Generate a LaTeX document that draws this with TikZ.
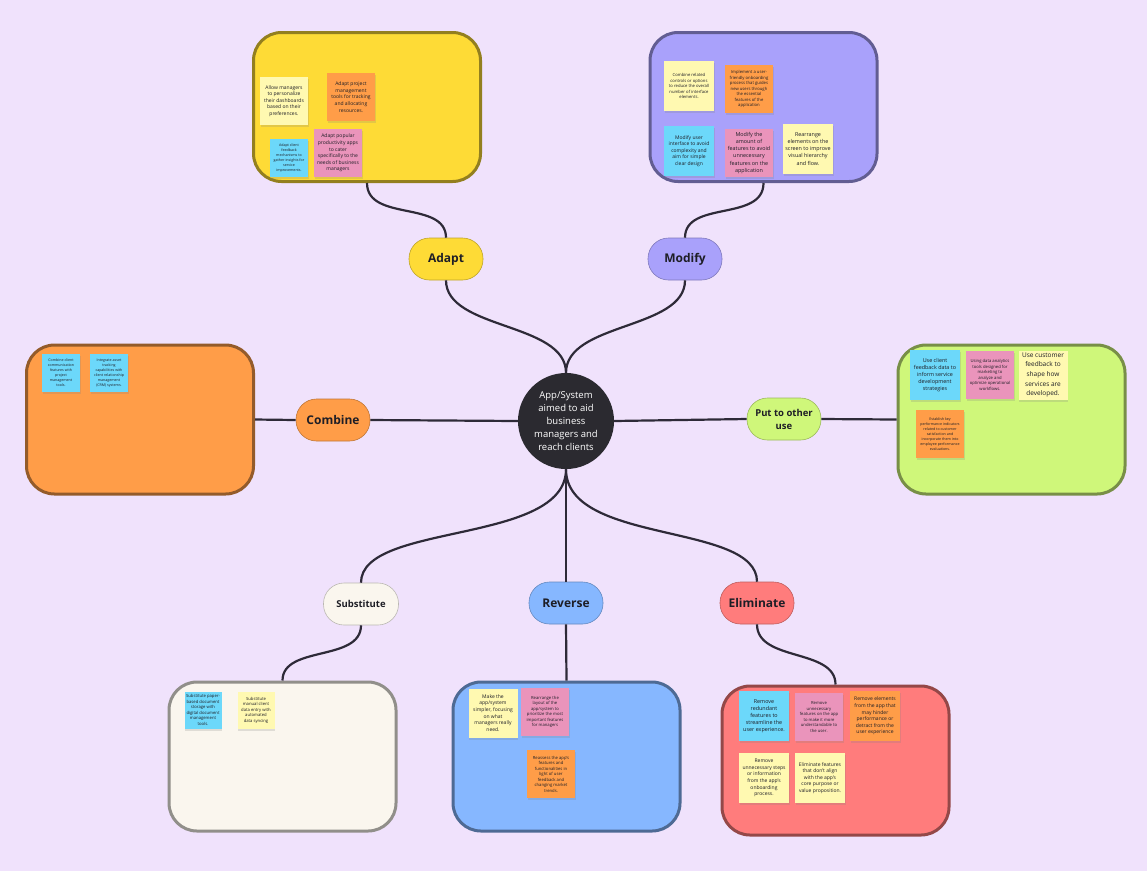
\documentclass[tikz,border=0pt]{standalone}
\usepackage{fontspec}
\setmainfont{Open Sans}
\usepackage{tikz}
\usetikzlibrary{positioning, shadows}
\definecolor{bgLavender}{RGB}{240, 226, 252}
\definecolor{hubFill}{RGB}{43, 42, 48}
\definecolor{wireColor}{RGB}{46, 42, 56}
\definecolor{inkColor}{RGB}{30, 30, 38}
\definecolor{adaptFill}{RGB}{254, 219, 54}
\definecolor{modifyFill}{RGB}{169, 161, 251}
\definecolor{combineFill}{RGB}{255, 157, 72}
\definecolor{putFill}{RGB}{207, 247, 122}
\definecolor{substituteFill}{RGB}{250, 246, 238}
\definecolor{reverseFill}{RGB}{134, 183, 255}
\definecolor{eliminateFill}{RGB}{255, 124, 124}
\definecolor{noteYellow}{RGB}{255, 249, 177}
\definecolor{noteOrange}{RGB}{255, 157, 72}
\definecolor{noteBlue}{RGB}{108, 216, 250}
\definecolor{notePink}{RGB}{234, 148, 187}
\tikzset{
    idea_box/.style={
        rectangle,
        rounded corners=28pt,
        line width=3pt,
        fill=#1,
        draw=#1!58!black,
        minimum width=227pt,
        minimum height=149pt
    },
    topic_pill/.style={
        rectangle,
        rounded corners=20.5pt,
        line width=0.6pt,
        fill=#1,
        draw=#1!75!black,
        minimum width=74pt,
        minimum height=42pt,
        text=inkColor,
        font=\bfseries\fontsize{12}{14}\selectfont,
        align=center
    },
    hub_node/.style={
        circle,
        fill=hubFill,
        minimum size=96pt,
        inner sep=0pt,
        text=white,
        align=center,
        font=\fontsize{9.5}{13}\selectfont
    },
    wire/.style={
        draw=wireColor,
        line width=2.2pt
    },
    sticky/.style={
        rectangle,
        minimum size=#1,
        inner sep=0pt,
        align=center,
        text=inkColor,
        drop shadow={shadow xshift=0.8pt, shadow yshift=-2pt, opacity=0.22}
    },
    note_yellow/.style={sticky=48pt, fill=noteYellow},
    note_orange/.style={sticky=48pt, fill=noteOrange},
    note_blue/.style={sticky=48pt, fill=noteBlue},
    note_pink/.style={sticky=48pt, fill=notePink},
    fs_xs/.style={font=\fontsize{3.6}{5}\selectfont},
    fs_s/.style={font=\fontsize{4.2}{5.5}\selectfont},
    fs_m/.style={font=\fontsize{5}{6.6}\selectfont},
    fs_l/.style={font=\fontsize{5.4}{7.1}\selectfont},
    fs_xl/.style={font=\fontsize{6.5}{9.6}\selectfont}
}

\begin{document}
\begin{tikzpicture}[x=1pt, y=-1pt]
    \fill[bgLavender] (0,0) rectangle (1147,871);

    % idea boxes
    \node[idea_box=adaptFill] (adapt_box) at (367,107) {};
    \node[idea_box=modifyFill] (modify_box) at (763.5,107) {};
    \node[idea_box=combineFill] (combine_box) at (140,419.5) {};
    \node[idea_box=putFill] (put_box) at (1011.5,419.5) {};
    \node[idea_box=substituteFill] (substitute_box) at (282.5,756.5) {};
    \node[idea_box=reverseFill] (reverse_box) at (566.5,756.5) {};
    \node[idea_box=eliminateFill] (eliminate_box) at (835.5,760.5) {};

    % adapt notes
    \node[note_yellow, fs_m] (ad_a) at (284,101) {Allow managers\\to personalize\\their dashboards\\based on their\\preferences.};
    \node[note_orange, fs_m] (ad_b) at (351,97) {Adapt project\\management\\tools for tracking\\and allocating\\resources.};
    \node[note_blue, minimum size=38pt, fs_xs] (ad_c) at (289,158) {Adapt client\\feedback\\mechanisms to\\gather insights for\\service\\improvements.};
    \node[note_pink, fs_m] (ad_d) at (338,153) {Adapt popular\\productivity apps\\to cater\\specifically to the\\needs of business\\managers};

    % modify notes
    \node[note_yellow, minimum size=50pt, fs_s] (mo_a) at (689,86) {Combine related\\controls or options\\to reduce the overall\\number of interface\\elements.};
    \node[note_orange, fs_s] (mo_b) at (749,89) {Implement a user-\\friendly onboarding\\process that guides\\new users through\\the essential\\features of the\\application};
    \node[note_blue, minimum size=50pt, fs_m] (mo_c) at (689,151) {Modify user\\interface to avoid\\complexity and\\aim for simple\\clear design};
    \node[note_pink, fs_l] (mo_d) at (749,153) {Modify the\\amount of\\features to avoid\\unnecessary\\features on the\\application};
    \node[note_yellow, minimum size=50pt, fs_l] (mo_e) at (808,149) {Rearrange\\elements on the\\screen to improve\\visual hierarchy\\and flow.};

    % combine notes
    \node[note_blue, minimum size=38pt, fs_xs] (co_a) at (61,373) {Combine client\\communication\\features with\\project\\management\\tools.};
    \node[note_blue, minimum size=38pt, fs_xs] (co_b) at (109,373) {Integrate asset\\tracking\\capabilities with\\client relationship\\management\\(CRM) systems.};

    % put to other use notes
    \node[note_blue, minimum size=50pt, fs_l] (pu_a) at (935,375) {Use client\\feedback data to\\inform service\\development\\strategies};
    \node[note_pink, fs_s] (pu_b) at (990,375) {Using data analytics\\tools designed for\\marketing to\\analyze and\\optimize operational\\workflows.};
    \node[note_yellow, minimum size=49pt, fs_xl] (pu_c) at (1043,375) {Use customer\\feedback to\\shape how\\services are\\developed.};
    \node[note_orange, fs_xs] (pu_d) at (940,434) {Establish key\\performance indicators\\related to customer\\satisfaction and\\incorporate them into\\employee performance\\evaluations.};

    % substitute notes
    \node[note_blue, minimum size=37pt, fs_s] (su_a) at (203,710) {Substitute paper-\\based document\\storage with\\digital document\\management\\tools.};
    \node[note_yellow, minimum size=37pt, fs_s] (su_b) at (256,710) {Substitute\\manual client\\data entry with\\automated\\data syncing};

    % reverse notes
    \node[note_yellow, minimum size=49pt, fs_m] (re_a) at (493,713) {Make the\\app/system\\simpler, focusing\\on what\\managers really\\need.};
    \node[note_pink, fs_s] (re_b) at (545,712) {Rearrange the\\layout of the\\app/system to\\prioritize the most\\important features\\for managers};
    \node[note_orange, fs_s] (re_c) at (551,774) {Reassess the app's\\features and\\functionalities in\\light of user\\feedback and\\changing market\\trends.};

    % eliminate notes
    \node[note_blue, minimum size=50pt, fs_l] (el_a) at (764,716) {Remove\\redundant\\features to\\streamline the\\user experience.};
    \node[note_pink, fs_s] (el_b) at (819,717) {Remove\\unnecessary\\features on the app\\to make it more\\understandable to\\the user.};
    \node[note_orange, minimum size=50pt, fs_m] (el_c) at (875,716) {Remove elements\\from the app that\\may hinder\\performance or\\detract from the\\user experience};
    \node[note_yellow, minimum size=50pt, fs_m] (el_d) at (764,778) {Remove\\unnecessary steps\\or information\\from the app's\\onboarding\\process.};
    \node[note_yellow, minimum size=50pt, fs_m] (el_e) at (820,778) {Eliminate features\\that don't align\\with the app's\\core purpose or\\value proposition.};

    % topics
    \node[topic_pill=adaptFill] (adapt) at (446,259) {Adapt};
    \node[topic_pill=modifyFill] (modify) at (685,259) {Modify};
    \node[topic_pill=combineFill] (combine) at (333,420) {Combine};
    \node[topic_pill=putFill, font=\bfseries\fontsize{9.5}{13}\selectfont] (put_use) at (784,419) {Put to other\\use};
    \node[topic_pill=substituteFill, minimum width=75pt, font=\bfseries\fontsize{9.5}{12}\selectfont] (substitute) at (361,604) {Substitute};
    \node[topic_pill=reverseFill] (reverse) at (566,603) {Reverse};
    \node[topic_pill=eliminateFill] (eliminate) at (757,603) {Eliminate};

    \node[hub_node] (hub) at (566,421) {App/System\\aimed to aid\\business\\managers and\\reach clients};

    % connectors
    \draw[wire] (hub.north) .. controls (566,322) and (446,330) .. (adapt.south);
    \draw[wire] (adapt.north) .. controls (446,200) and (367,222) .. (adapt_box.south);
    \draw[wire] (hub.north) .. controls (566,322) and (685,330) .. (modify.south);
    \draw[wire] (modify.north) .. controls (685,200) and (763.5,222) .. (modify_box.south);
    \draw[wire] (hub.west) -- (combine.east);
    \draw[wire] (combine.west) -- (combine_box.east);
    \draw[wire] (hub.east) -- (put_use.west);
    \draw[wire] (put_use.east) -- (put_box.west);
    \draw[wire] (hub.south) .. controls (566,545) and (361,522) .. (substitute.north);
    \draw[wire] (substitute.south) .. controls (361,662) and (282.5,645) .. (substitute_box.north);
    \draw[wire] (hub.south) -- (reverse.north);
    \draw[wire] (reverse.south) -- (reverse_box.north);
    \draw[wire] (hub.south) .. controls (566,545) and (757,522) .. (eliminate.north);
    \draw[wire] (eliminate.south) .. controls (757,662) and (835.5,648) .. (eliminate_box.north);
\end{tikzpicture}
\end{document}
